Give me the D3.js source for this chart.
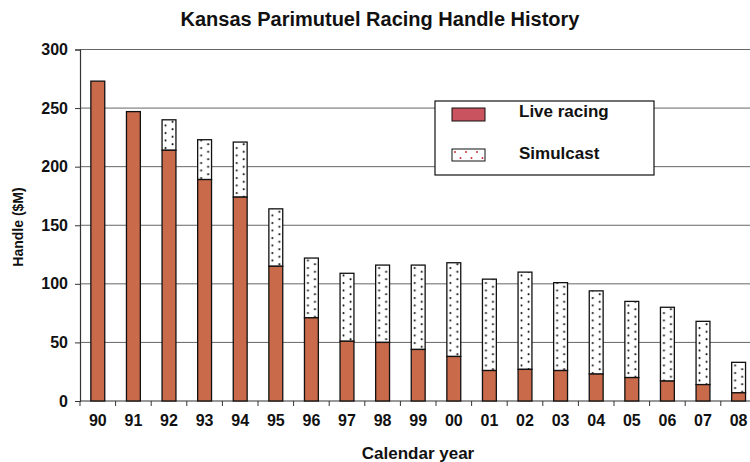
<!DOCTYPE html>
<html><head><meta charset="utf-8">
<script src="https://cdn.jsdelivr.net/npm/d3@7"></script>
<style>
body{margin:0;background:#fff;}
svg{display:block;font-family:"Liberation Sans",Arial,sans-serif;font-weight:bold;}
</style></head>
<body>
<svg id="chart" width="750" height="462"></svg>
<script>
const years = ["90","91","92","93","94","95","96","97","98","99","00","01","02","03","04","05","06","07","08"];
const liveRacing = [273,247,214,189,174,115,71,51,50,44,38,26,27,26,23,20,17,14,7];
const simulcast = [0,0,26,34,47,49,51,58,66,72,80,78,83,75,71,65,63,54,26];
const yTicks = [0,50,100,150,200,250,300];
const seriesNames = ["Live racing","Simulcast"];

const svg = d3.select("#chart");
const x = d3.scaleBand().domain(years).range([80, 756.4]).paddingInner(0.61).paddingOuter(0.305);
const y = d3.scaleLinear().domain([0, 300]).range([401, 49.5]);

const liveColor = "#C96A4B";
const dotOff = x.step() * 0.305;

const defs = svg.append("defs");
const pat = defs.append("pattern").attr("id","dots").attr("patternUnits","userSpaceOnUse")
  .attr("x", x.range()[0]).attr("y", y(0)).attr("width", x.step()).attr("height", 7.5);
pat.append("rect").attr("width", x.step()).attr("height", 7.5).attr("fill","#fff");
pat.append("circle").attr("cx", dotOff + 3.5).attr("cy", 2).attr("r", 1).attr("fill","#111");
pat.append("circle").attr("cx", dotOff + 10.5).attr("cy", 5.75).attr("r", 1).attr("fill","#111");

const lpat = defs.append("pattern").attr("id","ldots").attr("patternUnits","userSpaceOnUse")
  .attr("x", 452).attr("y", 149).attr("width", 11).attr("height", 12);
lpat.append("rect").attr("width", 11).attr("height", 12).attr("fill","#fff");
lpat.append("circle").attr("cx", 3).attr("cy", 3).attr("r", 1).attr("fill","#d0303c");
lpat.append("circle").attr("cx", 8.5).attr("cy", 9).attr("r", 1).attr("fill","#d0303c");

// gridlines
svg.append("g").selectAll("line").data(yTicks.filter(d=>d>0)).join("line")
  .attr("x1", 80).attr("x2", 750).attr("y1", d=>y(d)).attr("y2", d=>y(d))
  .attr("stroke","#666").attr("stroke-width",1);

// y axis
const yAxis = svg.append("g").attr("transform","translate(80,0)")
  .call(d3.axisLeft(y).tickValues(yTicks).tickSize(5).tickPadding(7));
yAxis.select(".domain").attr("stroke","#333").attr("stroke-width",1.2);
yAxis.selectAll(".tick line").attr("stroke","#333");
yAxis.selectAll("text").attr("font-size",16).attr("font-weight","bold").attr("fill","#111")
  .attr("font-family","Liberation Sans, Arial, sans-serif");

// x axis
const xAxis = svg.append("g").attr("transform",`translate(0,${y(0)})`)
  .call(d3.axisBottom(x).tickSize(0).tickPadding(14));
xAxis.select(".domain").remove();
svg.append("line").attr("x1",80).attr("x2",750).attr("y1",y(0)).attr("y2",y(0)).attr("stroke","#333").attr("stroke-width",1.2);
svg.append("g").selectAll("line").data(years).join("line")
  .attr("x1", d=>x(d)-dotOff).attr("x2", d=>x(d)-dotOff)
  .attr("y1", y(0)).attr("y2", y(0)+5).attr("stroke","#333");
xAxis.selectAll("text").attr("font-size",16).attr("font-weight","bold").attr("fill","#111")
  .attr("font-family","Liberation Sans, Arial, sans-serif");

// bars
const data = years.map((yr,i)=>({yr, live: liveRacing[i], sim: simulcast[i]}));
const g = svg.append("g");
g.selectAll("rect.sim").data(data.filter(d=>d.sim>0)).join("rect").attr("class","sim")
  .attr("x", d=>x(d.yr)).attr("width", x.bandwidth())
  .attr("y", d=>y(d.live+d.sim)).attr("height", d=>y(d.live)-y(d.live+d.sim))
  .attr("fill","url(#dots)").attr("stroke","#111").attr("stroke-width",1.3);
g.selectAll("rect.live").data(data).join("rect").attr("class","live")
  .attr("x", d=>x(d.yr)).attr("width", x.bandwidth())
  .attr("y", d=>y(d.live)).attr("height", d=>y(0)-y(d.live))
  .attr("fill", liveColor).attr("stroke","#111").attr("stroke-width",1.3);

// title and axis titles
svg.append("text").attr("x", 380).attr("y", 26).attr("text-anchor","middle")
  .attr("font-size",20).attr("fill","#111").text("Kansas Parimutuel Racing Handle History");
svg.append("text").attr("x", 418).attr("y", 459).attr("text-anchor","middle")
  .attr("font-size",17).attr("fill","#111").text("Calendar year");
svg.append("text").attr("transform","translate(23,227) rotate(-90)").attr("text-anchor","middle")
  .attr("font-size",14).attr("fill","#111").text("Handle ($M)");

// legend
const lg = svg.append("g");
lg.append("rect").attr("x",435).attr("y",101).attr("width",219).attr("height",74)
  .attr("fill","#fff").attr("stroke","#111").attr("stroke-width",1.2);
lg.append("rect").attr("x",452).attr("y",108).attr("width",33).attr("height",13)
  .attr("fill","#C9545F").attr("stroke","#111").attr("stroke-width",1);
lg.append("rect").attr("x",452).attr("y",149).attr("width",33).attr("height",12)
  .attr("fill","url(#ldots)").attr("stroke","#111").attr("stroke-width",1);
lg.selectAll("text").data(seriesNames).join("text")
  .attr("x",519).attr("y",(d,i)=> i===0 ? 117 : 159)
  .attr("font-size",17).attr("fill","#111").text(d=>d);
</script>
</body></html>
